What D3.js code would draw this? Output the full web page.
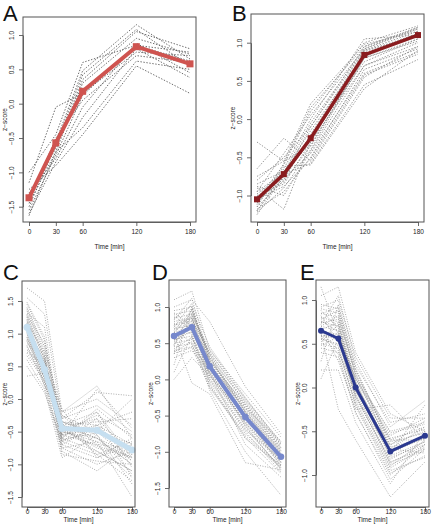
<!DOCTYPE html>
<html>
<head>
<meta charset="utf-8">
<script src="https://cdn.jsdelivr.net/npm/d3@7"></script>
<style>
  html, body { margin: 0; padding: 0; background: #fff; }
  svg { display: block; }
  text { font-family: "Liberation Sans", Arial, sans-serif; }
</style>
</head>
<body>
<svg id="chart" width="432" height="525"></svg>
<script>
// ---------------- DATA ----------------
const timePoints = [0, 30, 60, 120, 180];
const xTickLabels = ["0", "30", "60", "120", "180"];

const yTicksA = [-1.5, -1.0, -0.5, 0.0, 0.5, 1.0];
const yTicksB = [-1.0, -0.5, 0.0, 0.5, 1.0];
const yTicksC = [-1.5, -1.0, -0.5, 0.0, 0.5, 1.0, 1.5];
const yTicksD = [-1.5, -1.0, -0.5, 0.0, 0.5, 1.0];
const yTicksE = [-1.0, -0.5, 0.0, 0.5, 1.0];

const meanA = [-1.37, -0.57, 0.18, 0.83, 0.58];
const meanB = [-1.05, -0.72, -0.25, 0.84, 1.10];
const meanC = [1.10, 0.45, -0.45, -0.48, -0.78];
const meanD = [0.60, 0.72, 0.18, -0.52, -1.07];
const meanE = [0.65, 0.56, 0.00, -0.73, -0.55];

const genesA = [
  [-1.15, -0.05, 0.15, 0.75, 0.70],
  [-1.00, -0.45, 0.60, 0.85, 0.75],
  [-1.40, -0.55, 0.48, 1.15, 0.65],
  [-1.50, -0.60, 0.42, 1.08, 0.55],
  [-1.35, -0.65, 0.35, 1.05, 0.80],
  [-1.45, -0.70, 0.30, 0.95, 0.72],
  [-1.55, -0.75, 0.12, 0.85, 0.62],
  [-1.30, -0.80, -0.05, 0.88, 0.45],
  [-1.60, -0.85, -0.20, 0.80, 0.38],
  [-1.63, -0.70, -0.35, 0.62, 0.50],
  [-1.25, -0.90, -0.45, 0.55, 0.15],
  [-1.42, -0.50, 0.05, 0.70, 0.60]
];

const genesB = [
  [-0.30, -0.55, -0.35, 0.80, 1.05],
  [-0.65, -0.25, -0.55, 0.55, 0.95],
  [-0.90, -1.18, -0.30, 0.70, 1.00],
  [-1.25, -0.75, -0.10, 0.95, 1.20],
  [-1.20, -0.70, -0.05, 0.92, 1.18],
  [-1.15, -0.80, -0.20, 0.90, 1.15],
  [-1.10, -0.65, 0.00, 1.05, 1.10],
  [-1.05, -0.60, 0.10, 1.00, 1.22],
  [-1.00, -0.85, -0.30, 0.88, 1.12],
  [-0.95, -0.70, -0.15, 0.85, 1.08],
  [-1.22, -0.90, -0.40, 0.80, 1.02],
  [-0.75, -0.55, 0.20, 0.98, 1.15],
  [-1.18, -0.95, -0.50, 0.65, 0.92],
  [-1.08, -0.78, -0.45, 0.60, 0.88],
  [-0.98, -0.72, -0.58, 0.45, 0.78],
  [-1.12, -0.62, -0.60, 0.40, 0.90],
  [-0.85, -0.68, -0.25, 0.75, 1.05],
  [-1.02, -0.82, -0.35, 0.82, 1.10],
  [-1.15, -0.58, 0.15, 0.95, 1.18],
  [-0.88, -1.00, -0.42, 0.70, 0.95],
  [-1.20, -0.75, -0.28, 0.85, 1.12],
  [-0.80, -0.50, -0.10, 0.90, 1.08],
  [-1.05, -0.88, -0.52, 0.58, 0.85],
  [-0.95, -0.45, 0.05, 0.92, 1.20]
];

const genesC = [
  [1.70, 1.50, -0.20, 0.20, -0.60],
  [1.55, 1.30, -0.30, 0.10, 0.05],
  [1.45, 0.90, -0.40, -0.20, -0.90],
  [1.40, 0.80, -0.50, -0.60, -1.00],
  [1.35, 0.70, -0.35, -0.40, -0.70],
  [1.30, 0.65, -0.60, -0.80, -1.10],
  [1.25, 0.60, -0.45, -0.30, -0.85],
  [1.20, 0.55, -0.70, -0.90, -0.60],
  [1.15, 0.50, -0.25, -0.50, -0.95],
  [1.10, 0.45, -0.55, -0.70, -1.20],
  [1.05, 0.40, -0.65, -0.45, -0.75],
  [1.00, 0.35, -0.30, -0.10, -0.50],
  [0.95, 0.30, -0.75, -1.00, -0.80],
  [0.90, 0.25, -0.50, -0.65, -1.50],
  [0.85, 0.60, -0.40, -0.35, -0.30],
  [0.80, 0.20, -0.80, -1.10, -0.70],
  [0.75, 0.50, -0.60, -0.20, -1.05],
  [0.70, 0.35, -0.45, -0.75, -0.90],
  [0.60, 0.15, -0.90, -0.55, -1.15],
  [0.50, 0.10, -0.65, -0.85, -0.65],
  [0.35, 0.40, -0.55, -0.40, -0.20],
  [1.38, 0.75, -0.20, 0.00, -0.40],
  [1.28, 0.85, -0.35, -0.55, -1.30],
  [1.22, 0.45, -0.50, -0.25, -0.55],
  [1.18, 0.70, -0.85, -0.95, -1.00],
  [1.12, 0.30, -0.40, -0.60, -0.85],
  [1.08, 0.55, -0.70, -0.40, -0.95],
  [1.02, 0.20, -0.25, -0.70, -0.75],
  [0.98, 0.65, -0.60, -0.15, -0.60],
  [0.92, 0.40, -0.45, -0.80, -1.10],
  [0.88, 0.35, -0.35, -0.50, 0.00],
  [0.82, 0.25, -0.75, -0.65, -0.90],
  [1.32, 1.10, -0.55, -0.45, -0.80],
  [1.48, 0.95, -0.65, -0.30, -1.20],
  [0.72, 0.50, -0.15, -0.90, -0.70],
  [1.16, 0.38, -0.55, 0.15, -0.45],
  [0.66, 0.28, -0.40, -0.60, -1.00],
  [1.26, 0.62, -0.48, -0.72, -0.88],
  [0.94, 0.48, -0.62, -0.52, -0.68],
  [1.06, 0.58, -0.38, -0.85, -1.25]
];

const genesD = [
  [1.10, 1.22, 0.40, -0.20, -0.80],
  [1.00, 1.10, 0.80, -0.10, -0.75],
  [0.95, 1.00, 0.30, -0.30, -0.90],
  [0.90, 0.95, 0.20, -0.40, -1.00],
  [0.85, 0.90, 0.35, -0.45, -1.05],
  [0.80, 0.85, 0.15, -0.55, -1.10],
  [0.75, 0.80, 0.25, -0.35, -0.95],
  [0.70, 0.75, 0.10, -0.60, -1.15],
  [0.65, 0.70, 0.05, -0.50, -1.20],
  [0.60, 0.65, 0.20, -0.65, -1.25],
  [0.55, 0.60, 0.00, -0.70, -1.10],
  [0.50, 0.55, 0.30, -0.45, -1.00],
  [0.45, 0.50, -0.05, -0.80, -1.30],
  [0.40, 0.45, 0.15, -0.55, -1.05],
  [0.35, 0.90, -0.10, -0.75, -1.20],
  [0.30, 0.40, 0.10, -0.90, -1.35],
  [0.20, 1.00, 0.25, -0.40, -0.85],
  [0.10, 0.60, -0.15, -1.00, -1.60],
  [0.00, 0.30, 0.05, -0.60, -1.15],
  [0.62, -0.05, -0.20, -1.15, -1.25],
  [0.72, 1.05, 0.45, -0.25, -0.88],
  [0.58, 0.85, 0.22, -0.42, -0.98],
  [0.68, 0.95, 0.32, -0.52, -1.08],
  [0.52, 0.72, 0.12, -0.62, -1.18],
  [0.78, 0.62, 0.02, -0.68, -1.22],
  [0.48, 0.82, 0.38, -0.32, -0.92],
  [0.88, 0.68, 0.18, -0.48, -1.02],
  [0.42, 0.58, -0.02, -0.72, -1.28],
  [0.82, 1.12, 0.28, -0.38, -0.98],
  [0.38, 0.52, 0.08, -0.58, -1.12],
  [0.66, 0.88, 0.42, -0.28, -0.86],
  [0.56, 0.78, 0.16, -0.46, -1.06],
  [0.74, 0.48, -0.08, -0.82, -1.18],
  [0.46, 0.98, 0.26, -0.36, -0.96],
  [0.92, 0.74, 0.06, -0.64, -1.24],
  [0.64, 0.92, 0.36, -0.26, -0.90],
  [0.54, 0.66, 0.14, -0.54, -1.14],
  [0.84, 1.02, 0.22, -0.44, -1.02],
  [0.36, 0.44, -0.12, -0.78, -1.22],
  [0.76, 0.84, 0.34, -0.34, -0.94]
];

const genesE = [
  [1.15, 0.60, 0.10, -0.50, -0.40],
  [1.05, 1.15, 0.40, -0.30, -0.50],
  [0.95, 0.90, 0.20, -0.60, -0.60],
  [0.90, 0.85, 0.15, -0.70, -0.45],
  [0.85, 0.80, 0.05, -0.75, -0.55],
  [0.80, 0.75, 0.00, -0.80, -0.65],
  [0.75, 0.70, -0.05, -0.65, -0.50],
  [0.70, 0.65, -0.10, -0.85, -0.70],
  [0.65, 0.60, 0.10, -0.55, -0.35],
  [0.60, 0.55, -0.15, -0.90, -0.60],
  [0.55, 0.50, 0.05, -0.70, -0.75],
  [0.50, 0.45, -0.20, -0.95, -0.80],
  [0.45, 0.40, 0.00, -0.60, -0.45],
  [0.40, 0.35, -0.30, -1.00, -0.65],
  [0.30, 0.95, 0.25, -0.40, -0.30],
  [0.20, 0.20, -0.40, -1.10, -0.50],
  [0.10, 0.55, -0.10, -0.75, -0.20],
  [0.62, -0.25, -0.60, -1.25, -0.85],
  [0.72, 1.05, 0.30, -0.45, -0.15],
  [0.68, 0.30, -0.25, -0.20, -0.60],
  [0.78, 0.88, 0.12, -0.68, -0.58],
  [0.58, 0.62, -0.02, -0.78, -0.62],
  [0.82, 0.52, -0.08, -0.88, -0.72],
  [0.52, 0.72, 0.08, -0.58, -0.48],
  [0.74, 0.78, 0.18, -0.62, -0.52],
  [0.64, 0.42, -0.18, -0.92, -0.68],
  [0.88, 0.68, 0.02, -0.72, -0.55],
  [0.48, 0.58, -0.12, -0.82, -0.62],
  [0.70, 0.82, 0.14, -0.52, -0.42],
  [0.56, 0.48, -0.22, -0.98, -0.78],
  [0.84, 0.92, 0.22, -0.66, -0.38],
  [0.60, 0.38, -0.28, -1.05, -0.70],
  [0.76, 0.64, 0.06, -0.74, -0.58],
  [0.66, 0.74, -0.04, -0.86, -0.66],
  [0.92, 1.00, 0.35, -0.35, -0.35]
];

// ---------------- LAYOUT / STYLE ----------------
const panels = [
  { letter: "A", lx: 3, ly: 21, box: [23, 17, 196, 222], xr: [29, 190], yd: [1.0, -1.5], yr: [35, 206.7],
    yTicks: yTicksA, genes: genesA, mean: meanA, color: "#cf5450", meanW: 4, marker: "square", mSize: 7,
    geneColor: "#5a5a5a", geneDash: "1.4,1.6", geneW: 0.9, xlabY: 249, tickLabY: 234 },
  { letter: "B", lx: 232, ly: 21, box: [251, 14, 424, 222], xr: [257, 418], yd: [1.0, -1.0], yr: [42.7, 195.5],
    yTicks: yTicksB, genes: genesB, mean: meanB, color: "#8a1c1f", meanW: 3.5, marker: "square", mSize: 6,
    geneColor: "#8c8c8c", geneDash: "1.4,1.6", geneW: 0.9, xlabY: 249, tickLabY: 234 },
  { letter: "C", lx: 3, ly: 280, box: [22, 281, 135, 507], xr: [27, 132], yd: [1.5, -1.5], yr: [301, 497],
    yTicks: yTicksC, genes: genesC, mean: meanC, color: "#c6dff0", meanW: 5, marker: "circle", mSize: 7,
    geneColor: "#8a8a8a", geneDash: "1,1.5", geneW: 0.7, xlabY: 522, tickLabY: 514 },
  { letter: "D", lx: 152, ly: 280, box: [169, 280, 286, 507], xr: [174, 281], yd: [1.0, -1.5], yr: [307, 488],
    yTicks: yTicksD, genes: genesD, mean: meanD, color: "#7688cc", meanW: 4, marker: "circle", mSize: 6.5,
    geneColor: "#8a8a8a", geneDash: "1,1.5", geneW: 0.7, xlabY: 522, tickLabY: 514 },
  { letter: "E", lx: 300, ly: 280, box: [316, 280, 429, 507], xr: [321, 425], yd: [1.0, -1.0], yr: [300, 475],
    yTicks: yTicksE, genes: genesE, mean: meanE, color: "#2b3990", meanW: 3, marker: "circle", mSize: 6,
    geneColor: "#8a8a8a", geneDash: "1,1.5", geneW: 0.7, xlabY: 522, tickLabY: 514 }
];

const svg = d3.select("#chart");
const fmt = v => (v < 0 ? "\u2212" : "") + Math.abs(v).toFixed(1);

panels.forEach(p => {
  const [bl, bt, br, bb] = p.box;
  const x = d3.scaleLinear().domain([0, 180]).range(p.xr);
  const y = d3.scaleLinear().domain(p.yd).range(p.yr);
  const g = svg.append("g");

  // panel letter
  g.append("text").attr("x", p.lx).attr("y", p.ly)
    .attr("font-size", 22).attr("font-family", "'Open Sans', 'Liberation Sans', sans-serif")
    .attr("fill", "#111").text(p.letter);

  // x axis (ticks hang below box)
  const xAxis = d3.axisBottom(x).tickValues(timePoints).tickFormat((d, i) => xTickLabels[i])
    .tickSize(4).tickSizeOuter(0);
  const gx = g.append("g").attr("transform", `translate(0,${bb})`).call(xAxis);
  gx.select(".domain").attr("stroke", "#444").attr("stroke-width", 0.8);
  gx.selectAll(".tick line").attr("stroke", "#444").attr("stroke-width", 0.8);
  gx.selectAll(".tick text").attr("font-size", 6.5).attr("fill", "#222")
    .attr("y", null).attr("dy", null)
    .attr("transform", `translate(0,${p.tickLabY - bb})`);

  // y axis
  const yAxis = d3.axisLeft(y).tickValues(p.yTicks).tickFormat(fmt).tickSize(4).tickSizeOuter(0);
  const gy = g.append("g").attr("transform", `translate(${bl},0)`).call(yAxis);
  gy.select(".domain").attr("stroke", "#444").attr("stroke-width", 0.8);
  gy.selectAll(".tick line").attr("stroke", "#444").attr("stroke-width", 0.8);
  gy.selectAll(".tick text").attr("font-size", 6.5).attr("fill", "#222")
    .attr("x", null).attr("dy", null)
    .attr("text-anchor", "middle")
    .attr("transform", "translate(-9.5,0) rotate(-90)");

  // axis titles
  g.append("text").attr("x", (bl + br) / 2).attr("y", p.xlabY)
    .attr("text-anchor", "middle").attr("font-size", 6.5).attr("fill", "#222").text("Time [min]");
  g.append("text")
    .attr("transform", `translate(${Math.max(bl - 16.5, 7)},${(bt + bb) / 2}) rotate(-90)`)
    .attr("text-anchor", "middle").attr("font-size", 6.5).attr("fill", "#222").text("z\u2212score");

  // gene profiles
  const line = d3.line().x((d, i) => x(timePoints[i])).y(d => y(d));
  g.append("g").selectAll("path").data(p.genes).join("path")
    .attr("d", line).attr("fill", "none")
    .attr("stroke", p.geneColor).attr("stroke-width", p.geneW)
    .attr("stroke-dasharray", p.geneDash);

  // mean profile
  g.append("path").datum(p.mean).attr("d", line).attr("fill", "none")
    .attr("stroke", p.color).attr("stroke-width", p.meanW).attr("stroke-linejoin", "round");
  if (p.marker === "square") {
    g.append("g").selectAll("rect").data(p.mean).join("rect")
      .attr("x", (d, i) => x(timePoints[i]) - p.mSize / 2)
      .attr("y", d => y(d) - p.mSize / 2)
      .attr("width", p.mSize).attr("height", p.mSize).attr("fill", p.color);
  } else {
    g.append("g").selectAll("circle").data(p.mean).join("circle")
      .attr("cx", (d, i) => x(timePoints[i])).attr("cy", d => y(d))
      .attr("r", p.mSize / 2).attr("fill", p.color);
  }

  // box
  g.append("rect").attr("x", bl).attr("y", bt).attr("width", br - bl).attr("height", bb - bt)
    .attr("fill", "none").attr("stroke", "#555").attr("stroke-width", 1);
});
</script>
</body>
</html>
